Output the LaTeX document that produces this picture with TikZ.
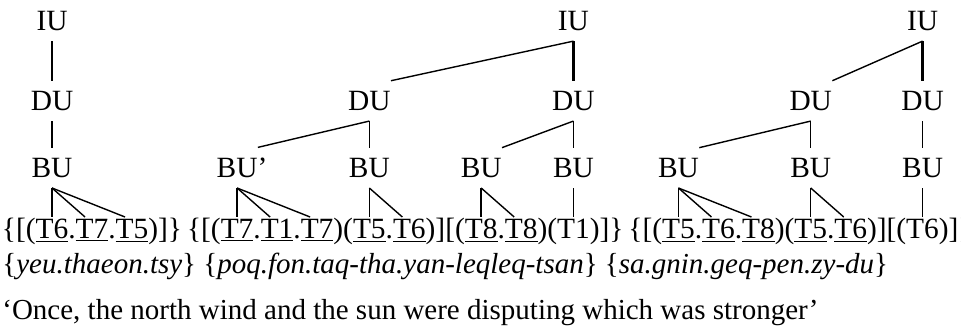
\documentclass[tikz,border=0pt]{standalone}
\usepackage{fontspec}
\setmainfont{Liberation Serif}
\usepackage{tikz}
\usetikzlibrary{positioning}

\begin{document}
\begin{tikzpicture}[
    x=0.5pt, y=-0.5pt,
    unit/.style={inner sep=5pt, font=\fontsize{14.7}{17}\selectfont},
    tok/.style={inner sep=0pt, outer sep=0pt, text height=10.5pt, text depth=3.5pt, font=\fontsize{14.7}{17}\selectfont},
    row/.style={anchor=base west, inner sep=0pt, font=\fontsize{14.5}{17}\selectfont},
    link/.style={line width=0.7pt},
    trunk/.style={line width=1.2pt}
  ]
    \useasboundingbox (0,0) rectangle (961,333);

    \node[tok, anchor=base west] (p0) at (2,238) {\{[(};
    \node[tok, base right=0pt of p0] (t1) {\underline{T6}};
    \node[tok, base right=0pt of t1] (p1) {.};
    \node[tok, base right=0pt of p1] (t2) {\underline{T7}};
    \node[tok, base right=0pt of t2] (p2) {.};
    \node[tok, base right=0pt of p2] (t3) {\underline{T5}};
    \node[tok, base right=0pt of t3] (p3) {)]\}\hspace{2.5pt}\{[(};
    \node[tok, base right=0pt of p3] (t4) {\underline{T7}};
    \node[tok, base right=0pt of t4] (p4) {.};
    \node[tok, base right=0pt of p4] (t5) {\underline{T1}};
    \node[tok, base right=0pt of t5] (p5) {.};
    \node[tok, base right=0pt of p5] (t6) {\underline{T7}};
    \node[tok, base right=0pt of t6] (p6) {)(};
    \node[tok, base right=0pt of p6] (t7) {\underline{T5}};
    \node[tok, base right=0pt of t7] (p7) {.};
    \node[tok, base right=0pt of p7] (t8) {\underline{T6}};
    \node[tok, base right=0pt of t8] (p8) {)][(};
    \node[tok, base right=0pt of p8] (t9) {\underline{T8}};
    \node[tok, base right=0pt of t9] (p9) {.};
    \node[tok, base right=0pt of p9] (t10) {\underline{T8}};
    \node[tok, base right=0pt of t10] (p10) {)(};
    \node[tok, base right=0pt of p10] (t11) {T1};
    \node[tok, base right=0pt of t11] (p11) {)]\}\hspace{2.5pt}\{[(};
    \node[tok, base right=0pt of p11] (t12) {\underline{T5}};
    \node[tok, base right=0pt of t12] (p12) {.};
    \node[tok, base right=0pt of p12] (t13) {\underline{T6}};
    \node[tok, base right=0pt of t13] (p13) {.};
    \node[tok, base right=0pt of p13] (t14) {\underline{T8}};
    \node[tok, base right=0pt of t14] (p14) {)(};
    \node[tok, base right=0pt of p14] (t15) {\underline{T5}};
    \node[tok, base right=0pt of t15] (p15) {.};
    \node[tok, base right=0pt of p15] (t16) {\underline{T6}};
    \node[tok, base right=0pt of t16] (p16) {)][(};
    \node[tok, base right=0pt of p16] (t17) {T6};
    \node[tok, base right=0pt of t17] (p17) {)]\}};

    \node[unit, above=14.5pt of t1] (bu1) {BU};
    \node[unit, above=13.3pt of bu1] (du1) {DU};
    \node[unit, above=19.8pt of du1] (iu1) {IU};

    \node[unit, above=14.5pt of t4] (bu2a) {BU\rlap{'}};
    \node[unit, above=14.5pt of t7] (bu2b) {BU};
    \node[unit, above=14.5pt of t9] (bu2c) {BU};
    \node[unit, above=14.5pt of t11] (bu2d) {BU};
    \node[unit, above=13.3pt of bu2b] (du2a) {DU};
    \node[unit, above=13.3pt of bu2d] (du2b) {DU};
    \node[unit, above=19.8pt of du2b] (iu2) {IU};

    \node[unit, above=14.5pt of t12] (bu3a) {BU};
    \node[unit, above=14.5pt of t15] (bu3b) {BU};
    \node[unit, above=14.5pt of t17] (bu3c) {BU};
    \node[unit, above=13.3pt of bu3b] (du3a) {DU};
    \node[unit, above=13.3pt of bu3c] (du3b) {DU};
    \node[unit, above=19.8pt of du3b] (iu3) {IU};

    \node[row] (syl) at (2,273) {\{\textit{yeu.thaeon.tsy}\}\ \{\textit{poq.fon.taq-tha.yan-leqleq-tsan}\}\ \{\textit{sa.gnin.geq-pen.zy-du}\}};
    \node[row] (gloss) at (2,319) {`Once, the north wind and the sun were disputing which was stronger'};

    \draw[trunk] (iu1.south) -- (du1.north);
    \draw[link] (du1.south) -- (bu1.north);
    \draw[link] (bu1.south) -- (t1.north);
    \draw[link] (bu1.south) -- ([xshift=-3.5pt]t2.north);
    \draw[link] (bu1.south) -- ([xshift=-3.5pt]t3.north);

    \draw[trunk] (iu2.south) -- (du2b.north);
    \draw[link] (iu2.south) -- ([xshift=-5pt]du2a.north east);
    \draw[link] (du2a.south) -- ([xshift=-5pt]bu2a.north east);
    \draw[link] (du2a.south) -- (bu2b.north);
    \draw[link] (du2b.south) -- ([xshift=-5pt]bu2c.north east);
    \draw[link] (du2b.south) -- (bu2d.north);
    \draw[link] (bu2a.south) -- (t4.north);
    \draw[link] (bu2a.south) -- ([xshift=-3.5pt]t5.north);
    \draw[link] (bu2a.south) -- ([xshift=-3.5pt]t6.north);
    \draw[link] (bu2b.south) -- (t7.north);
    \draw[link] (bu2b.south) -- ([xshift=-3.5pt]t8.north);
    \draw[link] (bu2c.south) -- (t9.north);
    \draw[link] (bu2c.south) -- ([xshift=-3.5pt]t10.north);
    \draw[link] (bu2d.south) -- (t11.north);

    \draw[trunk] (iu3.south) -- (du3b.north);
    \draw[link] (iu3.south) -- ([xshift=-5pt]du3a.north east);
    \draw[link] (du3a.south) -- ([xshift=-5pt]bu3a.north east);
    \draw[link] (du3a.south) -- (bu3b.north);
    \draw[link] (du3b.south) -- (bu3c.north);
    \draw[link] (bu3a.south) -- (t12.north);
    \draw[link] (bu3a.south) -- ([xshift=-3.5pt]t13.north);
    \draw[link] (bu3a.south) -- ([xshift=-3.5pt]t14.north);
    \draw[link] (bu3b.south) -- (t15.north);
    \draw[link] (bu3b.south) -- ([xshift=-3.5pt]t16.north);
    \draw[link] (bu3c.south) -- (t17.north);
\end{tikzpicture}
\end{document}
